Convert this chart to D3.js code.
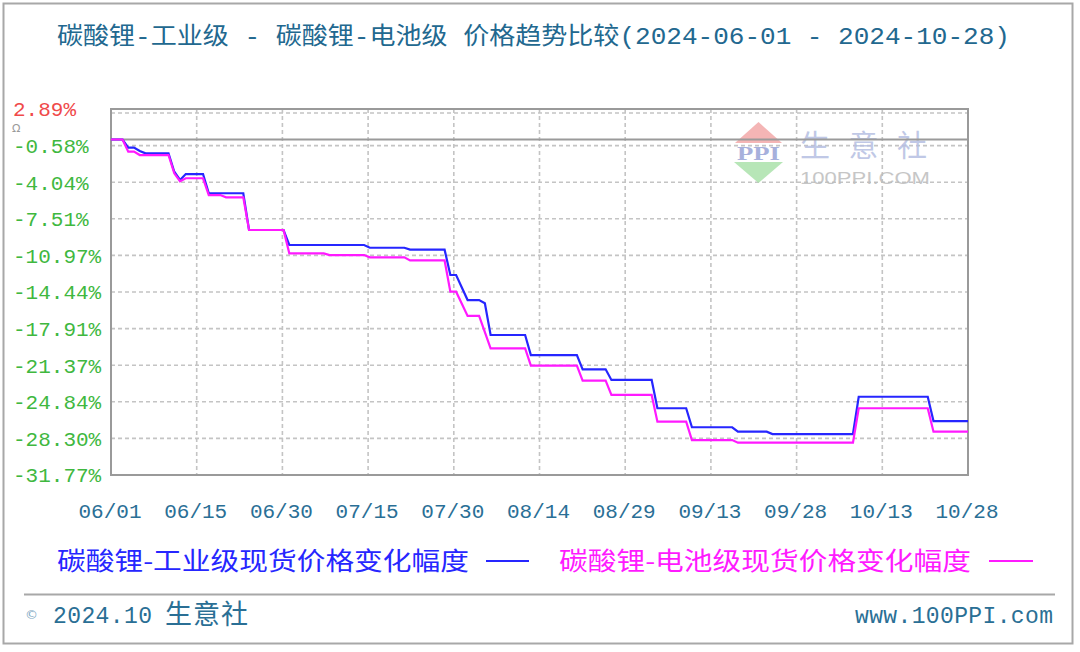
<!DOCTYPE html>
<html><head><meta charset="utf-8">
<script src="https://cdn.jsdelivr.net/npm/d3@7"></script>
<style>html,body{margin:0;padding:0;background:#fff;}svg{display:block;}</style>
</head><body>
<svg id="c" width="1080" height="652"></svg>
<script>
// ---------------- data ----------------
const titleText = "碳酸锂-工业级 - 碳酸锂-电池级 价格趋势比较(2024-06-01 - 2024-10-28)";
const seriesNames = ["碳酸锂-工业级现货价格变化幅度", "碳酸锂-电池级现货价格变化幅度"];
const seriesColors = ["#2626ff", "#ff1aff"];
const dateStart = "2024-06-01";
const dateEnd = "2024-10-28";
const xTickLabels = ["06/01","06/15","06/30","07/15","07/30","08/14","08/29","09/13","09/28","10/13","10/28"];
const yTickValues = [2.89,-0.58,-4.04,-7.51,-10.97,-14.44,-17.91,-21.37,-24.84,-28.30,-31.77];
const yTickLabels = ["2.89%","-0.58%","-4.04%","-7.51%","-10.97%","-14.44%","-17.91%","-21.37%","-24.84%","-28.30%","-31.77%"];
// 碳酸锂-工业级 (change %, vertices of the drawn line)
const industrial = [
  ["2024-06-01",0],["2024-06-03",0],["2024-06-04",-0.76],["2024-06-05",-0.76],["2024-06-06",-1.09],
  ["2024-06-07",-1.31],["2024-06-11",-1.31],["2024-06-12",-3.05],["2024-06-13",-3.83],["2024-06-14",-3.27],
  ["2024-06-17",-3.27],["2024-06-18",-5.09],["2024-06-24",-5.09],["2024-06-25",-8.57],["2024-07-01",-8.57],
  ["2024-07-02",-9.99],["2024-07-15",-9.99],["2024-07-16",-10.25],["2024-07-22",-10.25],["2024-07-23",-10.43],
  ["2024-07-29",-10.43],["2024-07-30",-12.83],["2024-07-31",-12.83],["2024-08-02",-15.2],["2024-08-04",-15.2],
  ["2024-08-05",-15.51],["2024-08-06",-18.51],["2024-08-12",-18.51],["2024-08-13",-20.41],["2024-08-21",-20.41],
  ["2024-08-22",-21.76],["2024-08-26",-21.76],["2024-08-27",-22.77],["2024-09-03",-22.77],["2024-09-04",-25.45],
  ["2024-09-09",-25.45],["2024-09-10",-27.25],["2024-09-17",-27.25],["2024-09-18",-27.67],["2024-09-23",-27.67],
  ["2024-09-24",-27.89],["2024-10-08",-27.89],["2024-10-09",-24.36],["2024-10-21",-24.36],["2024-10-22",-26.66],
  ["2024-10-28",-26.66]
];
// 碳酸锂-电池级
const battery = [
  ["2024-06-01",0],["2024-06-03",0],["2024-06-04",-1.15],["2024-06-05",-1.15],["2024-06-06",-1.47],
  ["2024-06-11",-1.47],["2024-06-12",-3.2],["2024-06-13",-3.95],["2024-06-14",-3.67],["2024-06-17",-3.67],
  ["2024-06-18",-5.26],["2024-06-20",-5.26],["2024-06-21",-5.47],["2024-06-24",-5.47],["2024-06-25",-8.57],
  ["2024-07-01",-8.57],["2024-07-02",-10.78],["2024-07-08",-10.78],["2024-07-09",-10.94],["2024-07-15",-10.94],
  ["2024-07-16",-11.16],["2024-07-22",-11.16],["2024-07-23",-11.45],["2024-07-29",-11.45],["2024-07-30",-14.41],
  ["2024-07-31",-14.41],["2024-08-02",-16.71],["2024-08-04",-16.71],["2024-08-06",-19.77],["2024-08-12",-19.77],
  ["2024-08-13",-21.42],["2024-08-21",-21.42],["2024-08-22",-22.84],["2024-08-26",-22.84],["2024-08-27",-24.19],
  ["2024-09-03",-24.19],["2024-09-04",-26.72],["2024-09-09",-26.72],["2024-09-10",-28.46],["2024-09-17",-28.46],
  ["2024-09-18",-28.71],["2024-10-08",-28.71],["2024-10-09",-25.45],["2024-10-21",-25.45],["2024-10-22",-27.67],
  ["2024-10-28",-27.67]
];
const footerLeft = "2024.10";
const footerBrand = "生意社";
const footerRight = "www.100PPI.com";

// ---------------- drawing ----------------
const svg = d3.select("#c");
const mono = "'Liberation Mono','DejaVu Sans Mono','Noto Sans CJK SC',monospace";
const cjk = "'Noto Sans CJK SC','Liberation Mono',sans-serif";
const parse = d3.utcParse("%Y-%m-%d");
const plot = {l:111, r:968, t:109, b:475};

// outer frame
svg.append("rect").attr("x",3.5).attr("y",3.5).attr("width",1069).attr("height",640)
  .attr("fill","#fff").attr("stroke","#a8a8a8").attr("stroke-width",2);

// title
svg.append("text").attr("x",57).attr("y",35).attr("dy","0.36em")
  .attr("font-family",mono).attr("font-size",24).attr("fill","#22688f")
  .attr("textLength",953).attr("lengthAdjust","spacingAndGlyphs").text(titleText);

const x = d3.scaleUtc().domain([parse(dateStart), parse(dateEnd)]).range([plot.l, plot.r]);
const y = d3.scaleLinear().domain([yTickValues[yTickValues.length-1], yTickValues[0]]).range([plot.b, plot.t]);
const t0 = +parse(dateStart), t1 = +parse(dateEnd);
const xTicks = xTickLabels.map((lab,i)=>({lab, d:new Date(t0 + i*(t1-t0)/(xTickLabels.length-1))}));

// grid
const grid = svg.append("g").attr("stroke","#c4c4c4").attr("stroke-width",1.6).attr("stroke-dasharray","4,3");
grid.selectAll("line.v").data(xTicks.slice(1,-1)).join("line")
  .attr("x1",d=>x(d.d)).attr("x2",d=>x(d.d)).attr("y1",plot.t).attr("y2",plot.b);
grid.selectAll("line.h").data(yTickValues.slice(1,-1)).join("line")
  .attr("x1",plot.l).attr("x2",plot.r).attr("y1",d=>y(d)).attr("y2",d=>y(d));
grid.append("line").attr("x1",plot.l).attr("x2",plot.r).attr("y1",y(yTickValues[0])+4).attr("y2",y(yTickValues[0])+4);

// watermark
const wm = svg.append("g").attr("opacity",0.85);
wm.append("path").attr("d","M735,143L782,143L758.5,122Z").attr("fill","#f3a9a9");
wm.append("path").attr("d","M734,162L783,162L758.5,183Z").attr("fill","#abe2ab");
wm.append("text").attr("x",737).attr("y",160).attr("font-family","'Liberation Serif',serif").attr("font-weight","bold")
  .attr("font-size",18).attr("fill","#98a3d6").attr("textLength",43).attr("lengthAdjust","spacingAndGlyphs").text("PPI");
wm.append("text").attr("x",800).attr("y",156).attr("font-family",cjk).attr("font-size",30)
  .attr("fill","#b6bfe2").attr("textLength",127).text("生意社");
wm.append("text").attr("x",800).attr("y",184).attr("font-family","'Liberation Sans',sans-serif").attr("font-size",17)
  .attr("fill","#bdbdbd").attr("textLength",130).attr("lengthAdjust","spacingAndGlyphs").text("100PPI.COM");

// plot frame & zero line
svg.append("rect").attr("x",plot.l).attr("y",plot.t).attr("width",plot.r-plot.l).attr("height",plot.b-plot.t)
  .attr("fill","none").attr("stroke","#9a9a9a").attr("stroke-width",2);
svg.append("line").attr("x1",plot.l).attr("x2",plot.r).attr("y1",y(0)).attr("y2",y(0))
  .attr("stroke","#9a9a9a").attr("stroke-width",2);

// series
const line = d3.line().x(d=>x(parse(d[0]))).y(d=>y(d[1]));
[industrial, battery].forEach((s,i)=>{
  svg.append("path").datum(s).attr("d",line).attr("fill","none")
    .attr("stroke",seriesColors[i]).attr("stroke-width",2.2).attr("stroke-linejoin","miter");
});

// y labels
svg.append("g").selectAll("text").data(yTickValues).join("text")
  .attr("x",13).attr("y",d=>y(d)).attr("dy","0.35em")
  .attr("font-family",mono).attr("font-size",21)
  .attr("fill",(d,i)=> i===0 ? "#f04a4a" : "#3fb83f")
  .text((d,i)=>yTickLabels[i]);
svg.append("text").attr("x",12).attr("y",132).attr("font-family","'DejaVu Sans',sans-serif")
  .attr("font-size",11).attr("fill","#9a9a9a").text("Ω");

// x labels
svg.append("g").selectAll("text").data(xTicks).join("text")
  .attr("x",d=>x(d.d)-1).attr("y",511).attr("dy","0.35em").attr("text-anchor","middle")
  .attr("font-family",mono).attr("font-size",21).attr("fill","#2a6f96").text(d=>d.lab);

// legend
const legX = [[57,486,529],[559,989,1033]];
seriesNames.forEach((nm,i)=>{
  svg.append("text").attr("x",legX[i][0]).attr("y",561).attr("dy","0.36em")
    .attr("font-family",cjk).attr("font-size",25).attr("fill",seriesColors[i])
    .attr("textLength",412).attr("lengthAdjust","spacingAndGlyphs").text(nm);
  svg.append("line").attr("x1",legX[i][1]).attr("x2",legX[i][2]).attr("y1",561).attr("y2",561)
    .attr("stroke",seriesColors[i]).attr("stroke-width",2);
});

// footer
svg.append("line").attr("x1",24).attr("x2",1055).attr("y1",594.5).attr("y2",594.5)
  .attr("stroke","#a8a8a8").attr("stroke-width",2);
svg.append("text").attr("x",25).attr("y",614).attr("dy","0.35em").attr("font-family","'DejaVu Sans',sans-serif")
  .attr("font-size",13).attr("fill","#7ea7c2").text("©");
svg.append("text").attr("x",53).attr("y",615).attr("dy","0.36em").attr("font-family",mono)
  .attr("font-size",23).attr("fill","#2a6f95").attr("textLength",99).text(footerLeft);
svg.append("text").attr("x",165).attr("y",614).attr("dy","0.36em").attr("font-family",cjk)
  .attr("font-size",27).attr("fill","#2a6f95").attr("textLength",83).text(footerBrand);
svg.append("text").attr("x",1053).attr("y",615).attr("dy","0.36em").attr("text-anchor","end").attr("font-family",mono)
  .attr("font-size",23).attr("fill","#2a6f95").attr("textLength",198).text(footerRight);
</script>
</body></html>
